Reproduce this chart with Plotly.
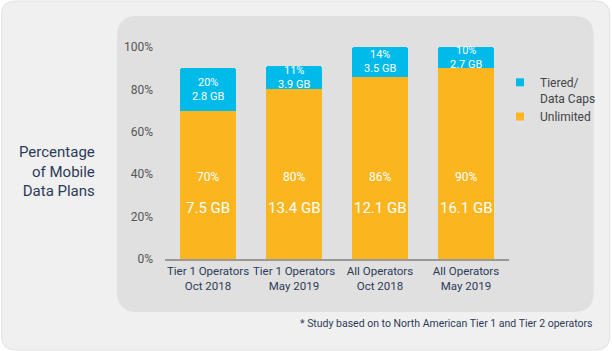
import plotly.graph_objects as go

categories = ["Tier 1 Operators<br>Oct 2018", "Tier 1 Operators<br>May 2019",
              "All Operators<br>Oct 2018", "All Operators<br>May 2019"]
unlimited_pct = [70, 80, 86, 90]
tiered_pct = [20, 11, 14, 10]
unlimited_gb = ["7.5 GB", "13.4 GB", "12.1 GB", "16.1 GB"]
tiered_gb = ["2.8 GB", "3.9 GB", "3.5 GB", "2.7 GB"]
y_ticks = [0, 20, 40, 60, 80, 100]
y_tick_labels = ["0%", "20%", "40%", "60%", "80%", "100%"]

ORANGE = "#fbb61f"
BLUE = "#00bbe9"
NAVY = "#2c3b58"
FONT = "Roboto"

W, H = 612, 351
L, R, T, B = 165, 102, 47, 92
PW, PH = W - L - R, H - T - B

def px(x):
    return (x - L) / PW

def py(y):
    return (H - B - y) / PH

fig = go.Figure()
fig.add_trace(go.Bar(x=categories, y=unlimited_pct, marker_color=ORANGE,
                     marker_line_width=0, showlegend=False, hoverinfo="skip"))
fig.add_trace(go.Bar(x=categories, y=tiered_pct, marker_color=BLUE,
                     marker_line_width=0, showlegend=False, hoverinfo="skip"))
# legend entries
fig.add_trace(go.Scatter(x=[None], y=[None], mode="markers", name="Tiered/<br>Data Caps",
                         marker=dict(symbol="square", size=8, color=BLUE)))
fig.add_trace(go.Scatter(x=[None], y=[None], mode="markers", name="Unlimited",
                         marker=dict(symbol="square", size=8, color=ORANGE)))

ann = []
for c, u, t, ug, tg in zip(categories, unlimited_pct, tiered_pct, unlimited_gb, tiered_gb):
    mid = u + t / 2
    ann.append(dict(x=c, y=mid, text=f"{t}%<br>{tg}", showarrow=False,
                    font=dict(size=11, color="white", family=FONT)))
    ann.append(dict(x=c, y=38.5, text=f"{u}%", showarrow=False,
                    font=dict(size=12, color="white", family=FONT)))
    ann.append(dict(x=c, y=24, text=ug, showarrow=False,
                    font=dict(size=15, color="white", family=FONT)))

ann.append(dict(xref="paper", yref="paper", x=px(97), y=py(171), xanchor="right",
                yanchor="middle", align="right", showarrow=False,
                text="Percentage<br>of Mobile<br>Data Plans",
                font=dict(size=15, color=NAVY, family=FONT)))
ann.append(dict(xref="paper", yref="paper", x=px(596), y=py(323), xanchor="right",
                yanchor="middle", showarrow=False,
                text="* Study based on to North American Tier 1 and Tier 2 operators",
                font=dict(size=10.5, color=NAVY, family=FONT)))


def rrect(x0, y0, x1, y1, r):
    rx, ry = r / PW, r / PH
    X0, X1 = px(x0), px(x1)
    Y0, Y1 = py(y1), py(y0)
    return (f"M {X0+rx},{Y0} L {X1-rx},{Y0} Q {X1},{Y0} {X1},{Y0+ry} "
            f"L {X1},{Y1-ry} Q {X1},{Y1} {X1-rx},{Y1} L {X0+rx},{Y1} "
            f"Q {X0},{Y1} {X0},{Y1-ry} L {X0},{Y0+ry} Q {X0},{Y0} {X0+rx},{Y0} Z")

shapes = [
    dict(type="path", xref="paper", yref="paper", path=rrect(1, 1, 611, 350, 14),
         fillcolor="#f0f0f0", line=dict(color="#e2e2e2", width=1), layer="below"),
    dict(type="path", xref="paper", yref="paper", path=rrect(117, 16, 595, 312, 20),
         fillcolor="#e0e0e0", line=dict(width=0), layer="below"),
]

fig.update_layout(
    width=W, height=H,
    margin=dict(l=L, r=R, t=T, b=B, pad=0),
    paper_bgcolor="white", plot_bgcolor="rgba(0,0,0,0)",
    barmode="stack", bargap=0.34, barcornerradius=3,
    font=dict(family=FONT, color=NAVY),
    showlegend=True,
    legend=dict(x=px(500), y=py(68), xanchor="left", yanchor="top",
                traceorder="normal", valign="top",
                bgcolor="rgba(0,0,0,0)", font=dict(size=12, color="#444", family=FONT),
                tracegroupgap=12, itemwidth=30),
    annotations=ann,
    shapes=shapes,
)
fig.update_xaxes(showline=True, linecolor="#999999", linewidth=1.5, showgrid=False,
                 ticks="", tickfont=dict(size=11.5, color=NAVY, family=FONT),
                 range=[-0.5, 3.5], fixedrange=True)
fig.update_yaxes(range=[0, 100], tickmode="array", tickvals=y_ticks, ticktext=y_tick_labels,
                 showgrid=False, zeroline=False, showline=False, ticklabelstandoff=11,
                 tickfont=dict(size=12, color="#555555", family=FONT), fixedrange=True)

fig.write_html("out.html")
